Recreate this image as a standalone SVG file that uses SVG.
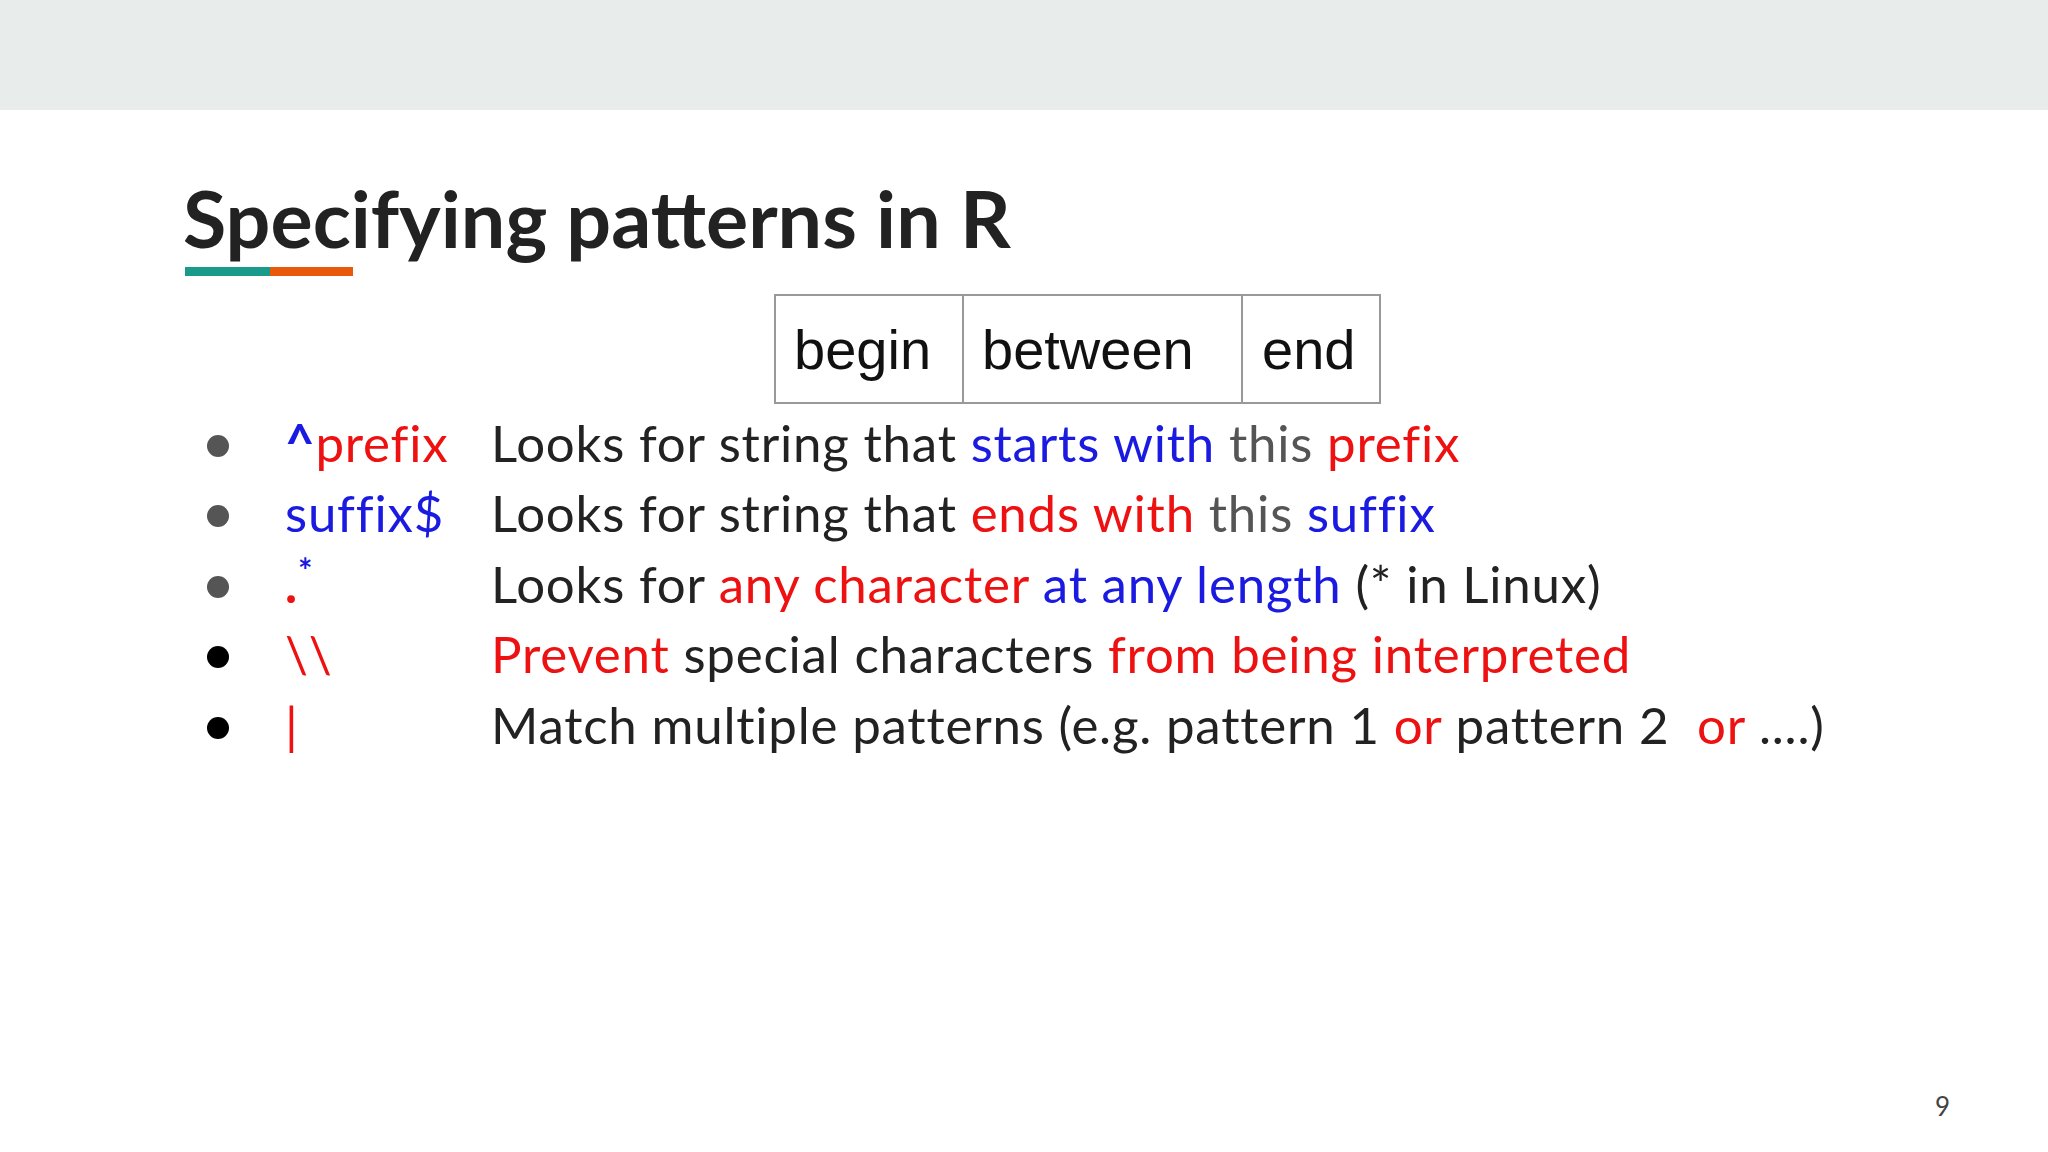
<svg xmlns="http://www.w3.org/2000/svg" width="2048" height="1152" viewBox="0 0 2048 1152">
<style>
.t{font-family:Lato,"Noto Sans",sans-serif;font-size:51px;letter-spacing:0.8px;fill:#222}
.r{fill:#ee1111}.b{fill:#1a1ae0}.g{fill:#555}
.cell{font-family:"Liberation Sans",Arial,sans-serif;font-size:56px;fill:#111}
</style>
<rect width="2048" height="1152" fill="#fff"/>
<rect width="2048" height="110" fill="#e8ecea"/>
<g id="title">
<text x="183" y="248" font-family="Lato,'Noto Sans',sans-serif" font-weight="bold" font-size="79" fill="#222">Specifying patterns in R</text>
<rect x="185" y="267" width="85" height="9" fill="#1a9a8a"/>
<rect x="270" y="267" width="83" height="9" fill="#e8590c"/>
</g>
<g id="table" fill="none" stroke="#999" stroke-width="2">
<rect x="775" y="295" width="605" height="108"/>
<line x1="963" y1="295" x2="963" y2="403"/>
<line x1="1242" y1="295" x2="1242" y2="403"/>
</g>
<g id="cells">
<text class="cell" x="794" y="369">begin</text>
<text class="cell" x="982" y="369">between</text>
<text class="cell" x="1262" y="369">end</text>
</g>
<g id="bullets">
<circle cx="218" cy="446" r="11" fill="#555"/>
<circle cx="218" cy="516" r="11" fill="#555"/>
<circle cx="218" cy="587" r="11" fill="#555"/>
<circle cx="218" cy="657" r="11" fill="#000"/>
<circle cx="218" cy="728" r="11" fill="#000"/>
</g>
<g id="rows">
<text class="t" x="285" y="462"><tspan class="b" font-weight="bold">^</tspan><tspan class="r">prefix</tspan></text>
<text class="t b" x="285" y="532">suffix$</text>
<text class="t" x="285" y="603"><tspan class="r" font-weight="bold">.</tspan><tspan class="b" font-weight="bold" x="298" y="583" font-size="34">*</tspan></text>
<text class="t r" x="285" y="673">\\</text>
<text class="t r" x="285" y="744">|</text>
<text class="t" x="491" y="462">Looks for string that <tspan class="b">starts with</tspan> <tspan class="g">this</tspan> <tspan class="r">prefix</tspan></text>
<text class="t" x="491" y="532">Looks for string that <tspan class="r">ends with</tspan> <tspan class="g">this</tspan> <tspan class="b">suffix</tspan></text>
<text class="t" x="491" y="603">Looks for <tspan class="r">any character</tspan> <tspan class="b">at any length</tspan> (* in Linux)</text>
<text class="t" x="491" y="673"><tspan class="r">Prevent</tspan> special characters <tspan class="r">from being interpreted</tspan></text>
<text class="t" x="491" y="744" xml:space="preserve">Match multiple patterns (e.g. pattern 1 <tspan class="r">or</tspan> pattern 2  <tspan class="r">or</tspan> ....)</text>
</g>
<text x="1935" y="1116" font-family="Lato,sans-serif" font-size="26" fill="#444">9</text>
</svg>
